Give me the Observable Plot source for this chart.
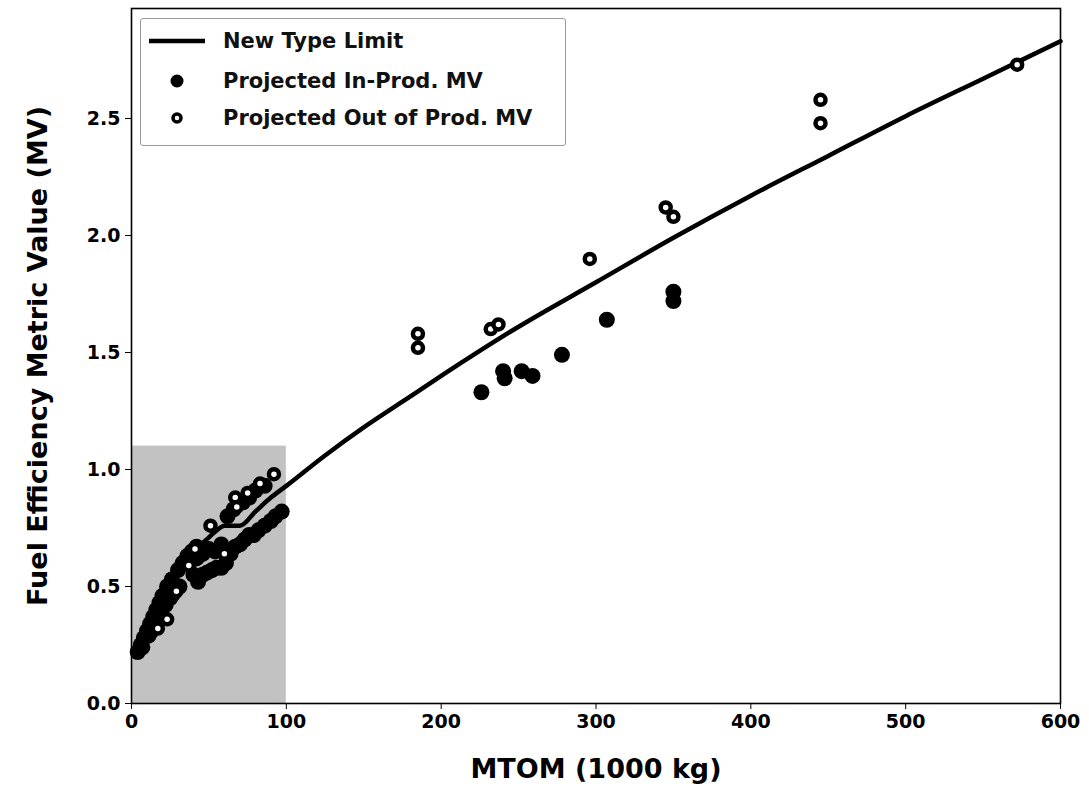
<!DOCTYPE html>
<html>
<head>
<meta charset="utf-8">
<script src="https://cdn.jsdelivr.net/npm/d3@7"></script>
<script src="https://cdn.jsdelivr.net/npm/@observablehq/plot@0.6"></script>
<style>
  html, body { margin: 0; padding: 0; background: #fff; }
  #wrap { position: relative; width: 1089px; height: 790px; font-family: "DejaVu Sans", sans-serif; }
  #wrap svg { font-family: "DejaVu Sans", sans-serif; }
  g[aria-label="y-axis label"] text, g[aria-label="x-axis label"] text { font-size: 27px; font-weight: bold; }
  #legend {
    position: absolute; left: 140px; top: 18px; width: 426px; height: 128px;
    box-sizing: border-box; border: 1.5px solid #999; border-radius: 3px; background: #fff;
    font-weight: bold; font-size: 21px; color: #111;
  }
  .row { position: absolute; left: 0; height: 36px; display: flex; align-items: center; }
  .row svg { width: 78px; height: 36px; }
  .row span { margin-left: 4px; }
</style>
</head>
<body>
<div id="wrap"></div>
<script>
// ---- data (MTOM in 1000 kg, MV) ----
const limitMTOM = [2, 5.7, 10, 15, 20, 25, 30, 35, 40, 45, 50, 55, 60, 70, 80, 90, 100, 125, 150, 175, 200, 250, 300, 350, 400, 450, 500, 550, 600];
const limitMV   = [0.20, 0.27, 0.35, 0.42, 0.48, 0.53, 0.57, 0.61, 0.64, 0.68, 0.71, 0.74, 0.76, 0.76, 0.82, 0.88, 0.93, 1.06, 1.18, 1.29, 1.40, 1.61, 1.80, 1.99, 2.17, 2.34, 2.51, 2.67, 2.83];

const inProdMTOM = [4, 6, 7, 8, 10, 11, 12, 13, 14, 16, 17, 18, 19, 20, 22, 23, 25, 26, 27, 30, 31, 33, 36, 39, 42, 45,
                    42, 46, 50, 54, 58,
                    40, 43, 46, 49, 52, 55, 58, 61, 64, 67, 70, 73, 76, 79, 82, 86, 90, 93, 97,
                    62, 66, 72, 76, 80, 86,
                    226, 240, 241, 252, 259, 278, 307, 350, 350];
const inProdMV   = [0.22, 0.25, 0.24, 0.28, 0.31, 0.29, 0.34, 0.31, 0.37, 0.40, 0.36, 0.43, 0.39, 0.46, 0.42, 0.50, 0.45, 0.53, 0.47, 0.57, 0.50, 0.60, 0.63, 0.65, 0.67, 0.66,
                    0.62, 0.64, 0.66, 0.65, 0.68,
                    0.55, 0.52, 0.55, 0.56, 0.57, 0.58, 0.58, 0.60, 0.64, 0.67, 0.68, 0.70, 0.72, 0.72, 0.74, 0.76, 0.78, 0.80, 0.82,
                    0.80, 0.83, 0.86, 0.88, 0.91, 0.93,
                    1.33, 1.42, 1.39, 1.42, 1.40, 1.49, 1.64, 1.76, 1.72];

const outProdMTOM = [17, 23, 29, 37, 41, 51, 60, 67, 68, 75, 83, 92,
                     185, 185, 232, 237, 296, 345, 350, 445, 445, 572];
const outProdMV   = [0.32, 0.36, 0.48, 0.59, 0.66, 0.76, 0.64, 0.88, 0.84, 0.90, 0.94, 0.98,
                     1.58, 1.52, 1.60, 1.62, 1.90, 2.12, 2.08, 2.58, 2.48, 2.73];

const shadeMTOM = [0, 100];
const shadeMV = [0, 1.1];

const xTicks = [0, 100, 200, 300, 400, 500, 600];
const yTicks = [0, 0.5, 1.0, 1.5, 2.0, 2.5];

const limit = limitMTOM.map((x, i) => ({x, y: limitMV[i]}));
const inProd = inProdMTOM.map((x, i) => ({x, y: inProdMV[i]}));
const outProd = outProdMTOM.map((x, i) => ({x, y: outProdMV[i]}));
const shade = [{x1: shadeMTOM[0], x2: shadeMTOM[1], y1: shadeMV[0], y2: shadeMV[1]}];

const chart = Plot.plot({
  width: 1089,
  height: 790,
  marginLeft: 131,
  marginRight: 29,
  marginTop: 8,
  marginBottom: 87,
  style: {fontFamily: "DejaVu Sans, sans-serif", background: "#fff", color: "#000"},
  x: {domain: [0, 600]},
  y: {domain: [0, 2.97]},
  marks: [
    Plot.rect(shade, {x1: "x1", x2: "x2", y1: "y1", y2: "y2", fill: "#c2c2c2"}),
    Plot.line(limit, {x: "x", y: "y", stroke: "#000", strokeWidth: 4.5, curve: "monotone-x"}),
    Plot.dot(inProd, {x: "x", y: "y", r: 8, fill: "#000"}),
    Plot.dot(outProd, {x: "x", y: "y", r: 5, fill: "#fff", stroke: "#000", strokeWidth: 4.5}),
    Plot.frame({stroke: "#000", strokeWidth: 1.6}),
    Plot.axisX({ticks: xTicks, tickSize: 6, tickPadding: 5, fontSize: 19, fontWeight: "bold",
      label: "MTOM (1000 kg)", labelAnchor: "center", labelArrow: "none", labelOffset: 74}),
    Plot.axisY({ticks: yTicks, tickFormat: d3.format(".1f"), tickSize: 6, tickPadding: 5, fontSize: 19, fontWeight: "bold",
      label: "Fuel Efficiency Metric Value (MV)", labelAnchor: "center", labelArrow: "none", labelOffset: 104})
  ]
});

const wrap = document.getElementById("wrap");
wrap.appendChild(chart);

const legend = document.createElement("div");
legend.id = "legend";
legend.innerHTML = `
  <div class="row" style="top:4px"><svg><line x1="8" x2="64" y1="18" y2="18" stroke="#000" stroke-width="4.5"/></svg><span>New Type Limit</span></div>
  <div class="row" style="top:44px"><svg><circle cx="36" cy="18" r="6.5" fill="#000"/></svg><span>Projected In-Prod. MV</span></div>
  <div class="row" style="top:81px"><svg><circle cx="36" cy="18" r="4" fill="#fff" stroke="#000" stroke-width="3.5"/></svg><span>Projected Out of Prod. MV</span></div>`;
wrap.appendChild(legend);
</script>
</body>
</html>
